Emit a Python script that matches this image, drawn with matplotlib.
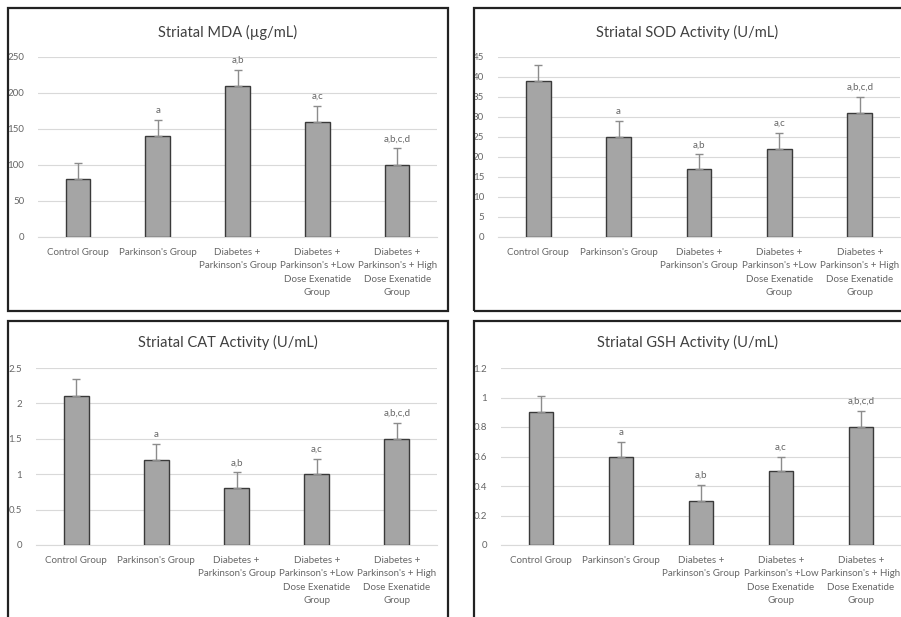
import numpy as np
import matplotlib
matplotlib.use("Agg")
import matplotlib.pyplot as plt
from matplotlib.patches import Rectangle

plt.rcParams['font.family'] = ['Lato', 'DejaVu Sans']

groups = ["Control Group", "Parkinson's Group", "Diabetes +\nParkinson's Group",
          "Diabetes +\nParkinson's +Low\nDose Exenatide\nGroup",
          "Diabetes +\nParkinson's + High\nDose Exenatide\nGroup"]
letters = ["", "a", "a,b", "a,c", "a,b,c,d"]

mda = [80, 140, 210, 160, 100]
mda_err = [23, 22, 22, 22, 23]
sod = [39, 25, 17, 22, 31]
sod_err = [4, 4, 3.7, 4, 4]
cat = [2.1, 1.2, 0.8, 1.0, 1.5]
cat_err = [0.24, 0.23, 0.23, 0.22, 0.23]
gsh = [0.9, 0.6, 0.3, 0.5, 0.8]
gsh_err = [0.11, 0.1, 0.11, 0.1, 0.11]

W, H = 901, 617
fig = plt.figure(figsize=(W / 100, H / 100), dpi=100)

def px_axes(x0, y0, x1, y1):
    return fig.add_axes([x0 / W, 1 - y1 / H, (x1 - x0) / W, (y1 - y0) / H])

def frame(x0, y0, x1, y1):
    fig.patches.append(Rectangle((x0 / W, 1 - y1 / H), (x1 - x0) / W, (y1 - y0) / H,
                                 transform=fig.transFigure, fill=False,
                                 edgecolor='#222222', linewidth=1.6))

panels = [
    ("Striatal MDA (\u00b5g/mL)", mda, mda_err, 250, 50, (38, 57, 437, 237), (8, 8, 448, 311), 32),
    ("Striatal SOD Activity (U/mL)", sod, sod_err, 45, 5, (498, 57, 900, 237), (474, 8, 910, 311), 32),
    ("Striatal CAT Activity (U/mL)", cat, cat_err, 2.5, 0.5, (36, 368, 437, 545), (8, 321, 448, 625), 342),
    ("Striatal GSH Activity (U/mL)", gsh, gsh_err, 1.2, 0.2, (501, 368, 901, 545), (474, 321, 910, 625), 342),
]

for title, vals, errs, ymax, step, box, border, ty in panels:
    frame(*border)
    ax = px_axes(*box)
    x = np.arange(len(groups))
    ax.bar(x, vals, width=0.31, color='#a5a5a5', edgecolor='#3a3a3a', linewidth=1, zorder=3)
    ax.errorbar(x, vals, yerr=[np.zeros(len(vals)), errs], fmt='none', ecolor='#8c8c8c',
                elinewidth=1, capsize=3, capthick=1, zorder=4)
    for xi, v, e, lab in zip(x, vals, errs, letters):
        if lab:
            ax.annotate(lab, (xi, v + e), xytext=(0, 3.5), textcoords='offset points',
                        ha='center', va='bottom', fontsize=7, color='#666666')
    ax.set_xlim(-0.5, len(groups) - 0.5)
    ax.set_ylim(0, ymax)
    ticks = np.arange(0, ymax + step / 2, step)
    ax.set_yticks(ticks)
    ax.set_yticklabels([f"{t:g}" for t in ticks])
    ax.set_xticks(x)
    ax.set_xticklabels(groups, fontsize=7, color='#666666', linespacing=1.6)
    ax.tick_params(axis='y', labelsize=7, labelcolor='#666666', length=0, pad=10)
    ax.tick_params(axis='x', length=0, pad=8)
    ax.grid(axis='y', color='#d9d9d9', linewidth=0.8, zorder=0)
    for s in ['top', 'right', 'left']:
        ax.spines[s].set_visible(False)
    ax.spines['bottom'].set_color('#d9d9d9')
    ax.set_facecolor('none')
    cx = (border[0] + min(border[2], W)) / 2
    fig.text(cx / W, 1 - ty / H, title, ha='center', va='center', fontsize=10.5, color='#404040')

fig.savefig("out.png", dpi=100)
